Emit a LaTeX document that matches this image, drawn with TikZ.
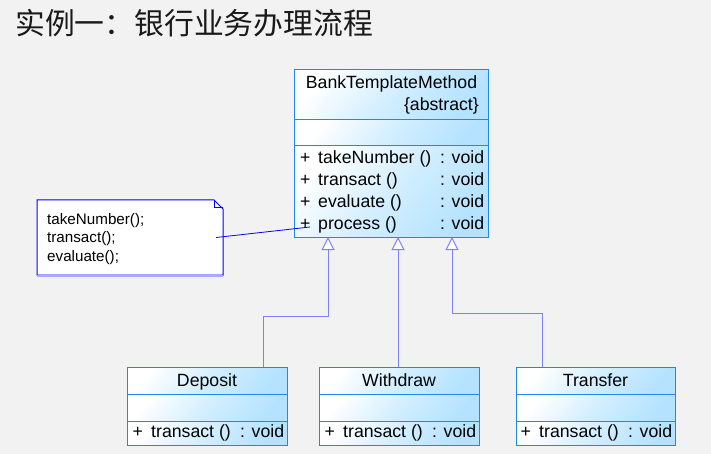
\documentclass[tikz,border=0pt]{standalone}
\usepackage{fontspec}
\setmainfont{Liberation Sans}
\newfontfamily\cjk{Noto Sans CJK SC}
\usetikzlibrary{arrows.meta,calc}
\definecolor{bg}{HTML}{F2F2F2}
\definecolor{titlecol}{HTML}{1A1A1A}
\definecolor{clsborder}{HTML}{1E88F0}
\definecolor{clsfill}{HTML}{B5E3FF}
\definecolor{genline}{HTML}{8080FF}
\definecolor{notecol}{HTML}{0000FF}
\definecolor{noteshadow}{HTML}{AAAAFF}
\begin{document}
\begin{tikzpicture}[x=1pt,y=-1pt,
  comp/.style={draw=clsborder, line width=1pt, top color=white, bottom color=clsfill,
    middle color=clsfill!60!white, shading angle=50, inner sep=0, outer sep=0, anchor=north west},
  ctext/.style={inner sep=0, anchor=base west, font=\fontsize{17.7}{20}\selectfont},
  ntext/.style={inner sep=0, anchor=base west, font=\fontsize{15.2}{18}\selectfont},
  gen/.style={draw=genline, line width=1pt, -{Triangle[width=13pt,length=13pt,fill=white]}},
  notebox/.style={draw=notecol, line width=1pt, fill=white},
  noteline/.style={draw=notecol, line width=0.8pt}
]
\useasboundingbox (0,0) rectangle (711,454);
\fill[bg] (0,0) rectangle (711,454);

% title
\node[anchor=west, inner sep=0, text=titlecol, font=\cjk\fontsize{29.8}{30}\selectfont] (title) at (15,23) {实例一：银行业务办理流程};

% abstract class
\node[comp, minimum width=194pt, minimum height=50pt] (btm-h) at (294,70) {};
\node[comp, minimum width=194pt, minimum height=26pt] (btm-a) at (btm-h.south west) {};
\node[comp, minimum width=194pt, minimum height=91pt] (btm-m) at (btm-a.south west) {};

% subclasses
\node[comp, minimum width=160pt, minimum height=27pt] (dep-h) at (127,367) {};
\node[comp, minimum width=160pt, minimum height=27pt] (dep-a) at (dep-h.south west) {};
\node[comp, minimum width=160pt, minimum height=24pt] (dep-m) at (dep-a.south west) {};

\node[comp, minimum width=160pt, minimum height=27pt] (wd-h) at (319,367) {};
\node[comp, minimum width=160pt, minimum height=27pt] (wd-a) at (wd-h.south west) {};
\node[comp, minimum width=160pt, minimum height=24pt] (wd-m) at (wd-a.south west) {};

\node[comp, minimum width=159pt, minimum height=27pt] (tr-h) at (516,367) {};
\node[comp, minimum width=159pt, minimum height=27pt] (tr-a) at (tr-h.south west) {};
\node[comp, minimum width=159pt, minimum height=24pt] (tr-m) at (tr-a.south west) {};

% generalization connectors
\draw[gen] ([xshift=56pt]dep-h.north) -- ++(0,-51) -| ([xshift=-63pt]btm-m.south);
\draw[gen] ([xshift=-1pt]wd-h.north) -- ([xshift=7pt]btm-m.south);
\draw[gen] ([xshift=-53.5pt]tr-h.north) -- ++(0,-54) -| ([xshift=61pt]btm-m.south);

% abstract class texts
\node[ctext, anchor=base] (btm-name) at (391.5,89) {BankTemplateMethod};
\node[ctext, anchor=base east] (btm-abs) at (479,111) {\{abstract\}};
\node[ctext] (btm-p1) at (300,163.5) {+};
\node[ctext] (btm-n1) at (318,163.5) {takeNumber ()};
\node[ctext] (btm-v1) at (440,163.5) {: void};
\node[ctext] (btm-p2) at (300,185.5) {+};
\node[ctext] (btm-n2) at (318,185.5) {transact ()};
\node[ctext] (btm-v2) at (440,185.5) {: void};
\node[ctext] (btm-p3) at (300,207.5) {+};
\node[ctext] (btm-n3) at (318,207.5) {evaluate ()};
\node[ctext] (btm-v3) at (440,207.5) {: void};
\node[ctext] (btm-p4) at (300,229.5) {+};
\node[ctext] (btm-n4) at (318,229.5) {process ()};
\node[ctext] (btm-v4) at (440,229.5) {: void};

% subclass texts
\node[ctext, anchor=base] (dep-name) at (207,386) {Deposit};
\node[ctext] (dep-p) at (132.5,437.5) {+};
\node[ctext] (dep-n) at (151,437.5) {transact ()};
\node[ctext] (dep-v) at (240,437.5) {: void};

\node[ctext, anchor=base] (wd-name) at (399,386) {Withdraw};
\node[ctext] (wd-p) at (324.5,437.5) {+};
\node[ctext] (wd-n) at (343,437.5) {transact ()};
\node[ctext] (wd-v) at (432,437.5) {: void};

\node[ctext, anchor=base] (tr-name) at (595.5,386) {Transfer};
\node[ctext] (tr-p) at (520.5,437.5) {+};
\node[ctext] (tr-n) at (539,437.5) {transact ()};
\node[ctext] (tr-v) at (628,437.5) {: void};

% note
\node[inner sep=0, outer sep=0, minimum width=186pt, minimum height=75pt, anchor=north west] (note) at (37,200) {};
\path[notebox] (note.south west) -- (note.north west) -- ($(note.north east)+(-9,0)$)
  -- ($(note.north east)+(0,9)$) -- (note.south east) -- cycle;
\draw[notecol, line width=1pt] ($(note.north east)+(-9,0)$) -- ($(note.north east)+(-9,8)$) -- ($(note.north east)+(0,8)$);
\draw[noteshadow, line width=2pt] ([yshift=-0.5pt]note.south west) -- ([yshift=-0.5pt]note.south east);
\node[ntext] (nt1) at (47,224) {takeNumber();};
\node[ntext] (nt2) at (47,242.5) {transact();};
\node[ntext] (nt3) at (47,261) {evaluate();};

\coordinate (noteend) at (310,227);
\draw[noteline] ([xshift=-7pt]note.east) -- (noteend);
\end{tikzpicture}
\end{document}
